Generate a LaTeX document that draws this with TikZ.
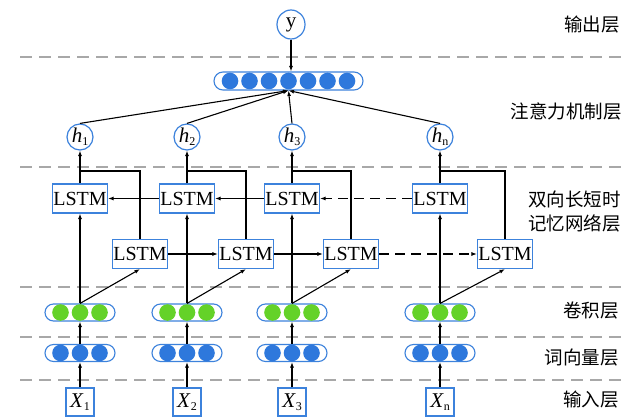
\documentclass[tikz,border=0pt]{standalone}
\usepackage{fontspec}
\setmainfont{Liberation Serif}
\newfontfamily\cjk{Noto Sans CJK SC}
\usetikzlibrary{arrows.meta,shapes.geometric}
\definecolor{bord}{HTML}{3C82DC}
\definecolor{bfill}{HTML}{2E78DC}
\definecolor{gfill}{HTML}{64D228}
\definecolor{sepgray}{HTML}{A8A8A8}
\newcommand\sbs[1]{\raisebox{-0.35ex}{\fontsize{12}{12}\selectfont #1}}
\begin{document}
\begin{tikzpicture}[x=1pt,y=-1pt,
 lstm/.style={draw=bord,line width=1.2pt,fill=white,minimum width=55pt,minimum height=29pt,inner sep=0pt,font=\fontsize{20}{20}\selectfont},
 hnode/.style={circle,draw=bord,line width=1.2pt,fill=white,minimum size=26pt,inner sep=0pt,font=\fontsize{21}{21}\selectfont},
 ynode/.style={ellipse,draw=bord,line width=1.2pt,fill=white,minimum width=28pt,minimum height=29pt,inner sep=0pt,font=\fontsize{21}{21}\selectfont},
 xbox/.style={draw=bord,line width=1.2pt,fill=white,minimum width=28pt,minimum height=28pt,inner sep=0pt,font=\fontsize{21}{21}\selectfont},
 vec/.style={draw=bord,line width=1.1pt,fill=white,rounded corners=8.5pt,minimum height=17pt,inner sep=0pt},
 arr/.style={line width=1.1pt,-{Latex[length=5.5pt,width=4pt]}},
 conn/.style={line width=1.1pt},
 bdash/.style={dash pattern=on 10pt off 6pt},
 sepline/.style={draw=sepgray,line width=1.1pt,dash pattern=on 12pt off 7pt},
 lab/.style={font=\cjk\fontsize{18.5}{24}\selectfont,anchor=east,align=right,inner sep=0pt}
]
\useasboundingbox (0,0) rectangle (635,417);
\fill[white] (0,0) rectangle (635,417);
% separator lines
\foreach \yy in {57,167,287,337,380}
  \draw[sepline] (20,\yy) -- (621,\yy);
% layer labels
\node[lab] (l1) at (620,25) {输出层};
\node[lab] (l2) at (622,111) {注意力机制层};
\node[lab] (l3) at (621,212) {双向长短时\\记忆网络层};
\node[lab] (l4) at (619,311) {卷积层};
\node[lab] (l5) at (619,358) {词向量层};
\node[lab] (l6) at (619,400) {输入层};
% output and attention
\node[ynode] (y) at (291,24.5) {y};
\node[vec,minimum width=149pt,minimum height=18pt,rounded corners=9pt] (att) at (288.5,81) {};
\foreach \d in {-3,...,3}
  \fill[bfill] (288.5+19.5*\d,81) circle (8.3);
\draw[arr] (y) -- (y.south |- att.north);
% columns
\foreach \i/\c/\b in {1/80/140,2/187/246,3/292/351,n/440/505} {
  \node[xbox] (x\i) at (\c,402) {\textit{X}\sbs{\i}};
  \node[vec,minimum width=70pt] (w\i) at (\c,353) {};
  \foreach \d in {-1,0,1} \fill[bfill] (\c+19.5*\d,353) circle (8.3);
  \node[vec,minimum width=70pt] (c\i) at (\c,312.5) {};
  \foreach \d in {-1,0,1} \fill[gfill] (\c+19.5*\d,312.5) circle (8.3);
  \node[lstm] (t\i) at (\c,198.5) {LSTM};
  \node[lstm] (b\i) at (\b,254) {LSTM};
  \node[hnode] (h\i) at (\c,137) {\textit{h}\sbs{\i}};
  \coordinate (j\i) at (\c,171);
  \draw[arr] (x\i) -- (w\i);
  \draw[arr] (w\i) -- (c\i);
  \draw[arr] (c\i.north) -- (t\i.south);
  \draw[arr] (c\i.north) -- (b\i.south);
  \draw[arr] (t\i) -- (h\i);
  \draw[conn] (b\i.north) |- (j\i);
  \draw[arr] (h\i.north) -- (att.south);
}
% recurrent connections
\draw[arr] (t2) -- (t1);
\draw[arr] (t3) -- (t2);
\draw[arr,bdash] (tn) -- (t3);
\draw[arr] (b1) -- (b2);
\draw[arr] (b2) -- (b3);
\draw[arr,bdash] (b3) -- (bn);
\end{tikzpicture}
\end{document}
